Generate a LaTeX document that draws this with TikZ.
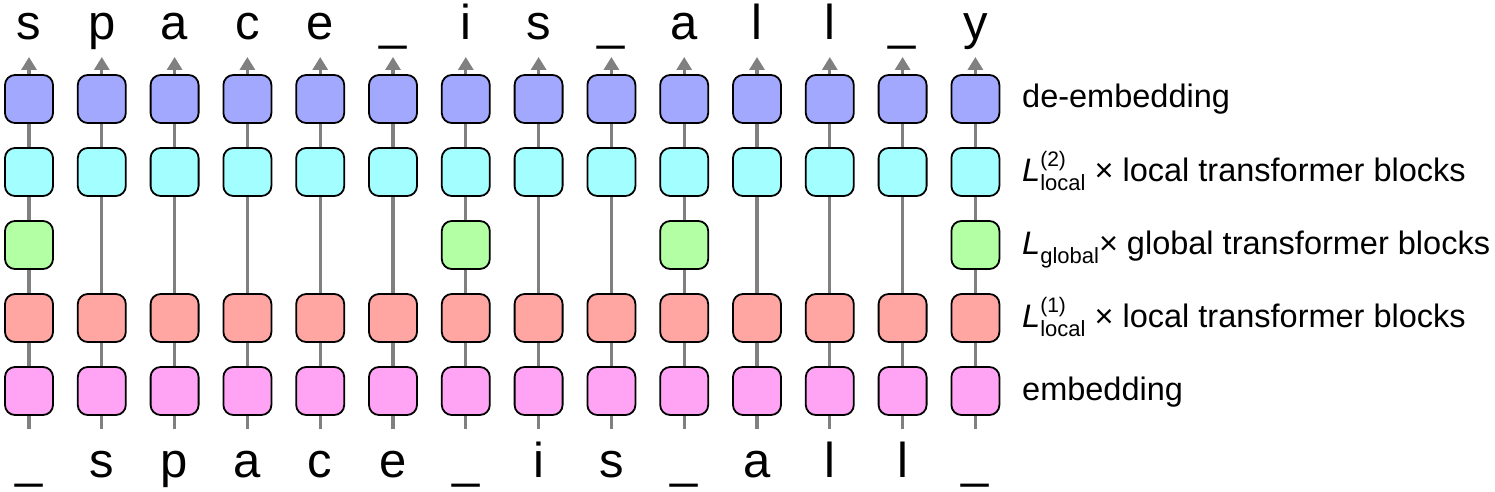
\documentclass[tikz,border=0pt]{standalone}
\usepackage{fontspec}
\setmainfont{Liberation Sans}
\usetikzlibrary{arrows.meta}
\definecolor{cblue}{HTML}{A3A8FF}
\definecolor{ccyan}{HTML}{A3FFFF}
\definecolor{cgreen}{HTML}{B3FFA3}
\definecolor{cred}{HTML}{FFA6A3}
\definecolor{cpink}{HTML}{FFA3F5}
\definecolor{cwire}{HTML}{808080}
\newcommand\Lab[2]{\textit{L}\rlap{\raisebox{15pt}{\fontsize{21}{21}\selectfont #1}}\raisebox{-9pt}{\fontsize{22}{22}\selectfont #2}}
\begin{document}
\begin{tikzpicture}[x=1pt,y=1pt,
  blk/.style={draw=black, line width=1.8pt, rounded corners=10pt, minimum width=48pt, minimum height=48pt, inner sep=0pt},
  wire/.style={draw=cwire, line width=3.2pt},
  tok/.style={font=\fontsize{49}{55}\selectfont, anchor=base, inner sep=0pt},
  lab/.style={font=\fontsize{32.5}{38}\selectfont, anchor=base west, inner sep=0pt}]
\useasboundingbox (0,0) rectangle (1495,-492);
\foreach \i in {0,...,13} {
  \pgfmathsetmacro\x{29+72.8*\i}
  \coordinate (bot\i) at (\x,-429);
  \coordinate (top\i) at (\x,-57);
  \node[blk,fill=cpink] (e\i) at (\x,-391) {};
  \node[blk,fill=cred] (r\i) at (\x,-318) {};
  \node[blk,fill=ccyan] (c\i) at (\x,-172) {};
  \node[blk,fill=cblue] (b\i) at (\x,-99) {};
  \draw[wire] (bot\i) -- (e\i);
  \draw[wire] (e\i) -- (r\i);
  \draw[wire] (c\i) -- (b\i);
  \draw[wire,-{Triangle[width=15pt,length=13pt]}] (b\i) -- (top\i);
}
\foreach \i in {0,6,9,13} {
  \node[blk,fill=cgreen] (g\i) at ({29+72.8*\i},-245) {};
  \draw[wire] (r\i) -- (g\i);
  \draw[wire] (g\i) -- (c\i);
}
\foreach \i in {1,2,3,4,5,7,8,10,11,12} {
  \draw[wire] (r\i) -- (c\i);
}
\foreach \t [count=\i from 0] in {s,p,a,c,e,\_,i,s,\_,a,l,l,\_,y} {
  \node[tok] (o\i) at ({29+72.8*\i},-40) {\t};
}
\foreach \t [count=\i from 0] in {\_,s,p,a,c,e,\_,i,s,\_,a,l,l,\_} {
  \node[tok] (n\i) at ({29+72.8*\i},-477) {\t};
}
\node[lab] (l1) at (1022,-108) {de-embedding};
\node[lab] (l2) at (1022,-181) {\Lab{(2)}{local} × local transformer blocks};
\node[lab] (l3) at (1022,-254) {\textit{L}\raisebox{-9pt}{\fontsize{22}{22}\selectfont global}× global transformer blocks};
\node[lab] (l4) at (1022,-327) {\Lab{(1)}{local} × local transformer blocks};
\node[lab] (l5) at (1022,-400) {embedding};
\end{tikzpicture}
\end{document}
